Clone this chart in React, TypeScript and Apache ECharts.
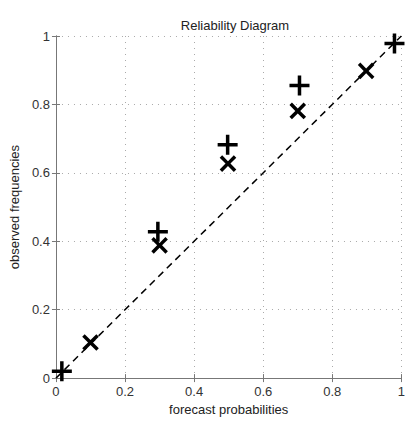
import React, { useEffect, useRef } from "react";
import * as echarts from "echarts";

const plusPoints: [number, number][] = [
  [0.017, 0.02],
  [0.295, 0.428],
  [0.497, 0.682],
  [0.705, 0.855],
  [0.98, 0.978],
];
const crossPoints: [number, number][] = [
  [0.1, 0.104],
  [0.3, 0.388],
  [0.498, 0.627],
  [0.7, 0.781],
  [0.898, 0.898],
];
const diagonal: [number, number][] = [
  [0, 0],
  [1, 1],
];
const titleText = "Reliability Diagram";
const xName = "forecast probabilities";
const yName = "observed frequencies";

const PLUS = "path://M0,8.25H8.25V0H11.75V8.25H20V11.75H11.75V20H8.25V11.75H0Z";
const FONT = "Liberation Sans, Arial, Helvetica, sans-serif";

export default function App() {
  const ref = useRef<HTMLDivElement>(null);
  useEffect(() => {
    if (!ref.current) return;
    const chart = echarts.init(ref.current, undefined, { renderer: "svg" });
    const axisLine = { show: true, lineStyle: { color: "#777", width: 1 } };
    const tick = { show: true, inside: true, length: 4, lineStyle: { color: "#777" } };
    const split = { show: true, lineStyle: { color: "#aaa", type: [1, 5] as any, width: 1 } };
    const label = { color: "#333", fontSize: 13, fontFamily: FONT };
    chart.setOption({
      animation: false,
      backgroundColor: "#fff",
      title: {
        text: titleText,
        left: 230,
        top: 14,
        textAlign: "center",
        textStyle: { fontSize: 13, fontWeight: "normal", color: "#222", fontFamily: FONT },
      },
      grid: { left: 53, right: 2, top: 36, bottom: 37, containLabel: false },
      xAxis: [
        {
          type: "value",
          min: 0,
          max: 1,
          interval: 0.2,
          position: "bottom",
          name: xName,
          nameLocation: "middle",
          nameGap: 24,
          nameTextStyle: { color: "#222", fontSize: 13, fontFamily: FONT },
          axisLine,
          axisTick: tick,
          splitLine: split,
          axisLabel: { ...label, margin: 7 },
        },
        {
          type: "value",
          min: 0,
          max: 1,
          interval: 0.2,
          position: "top",
          axisLine,
          axisTick: tick,
          splitLine: { show: false },
          axisLabel: { show: false },
        },
      ],
      yAxis: [
        {
          type: "value",
          min: 0,
          max: 1,
          interval: 0.2,
          position: "left",
          name: yName,
          nameLocation: "middle",
          nameGap: 31,
          nameTextStyle: { color: "#222", fontSize: 13, fontFamily: FONT },
          axisLine,
          axisTick: tick,
          splitLine: split,
          axisLabel: { ...label, margin: 6 },
        },
        {
          type: "value",
          min: 0,
          max: 1,
          interval: 0.2,
          position: "right",
          axisLine,
          axisTick: tick,
          splitLine: { show: false },
          axisLabel: { show: false },
        },
      ],
      series: [
        {
          type: "line",
          data: diagonal,
          symbol: "none",
          lineStyle: { color: "#000", width: 1.5, type: [7, 5] },
          z: 2,
        },
        {
          type: "scatter",
          data: plusPoints,
          symbol: PLUS,
          symbolSize: 20,
          itemStyle: { color: "#000", opacity: 1 },
          clip: false,
          z: 3,
        },
        {
          type: "scatter",
          data: crossPoints,
          symbol: PLUS,
          symbolSize: 20,
          symbolRotate: 45,
          itemStyle: { color: "#000", opacity: 1 },
          clip: false,
          z: 3,
        },
      ],
    });
    return () => chart.dispose();
  }, []);
  return <div ref={ref} style={{ width: 408, height: 421, position: "absolute", left: 0, top: 0 }} />;
}
